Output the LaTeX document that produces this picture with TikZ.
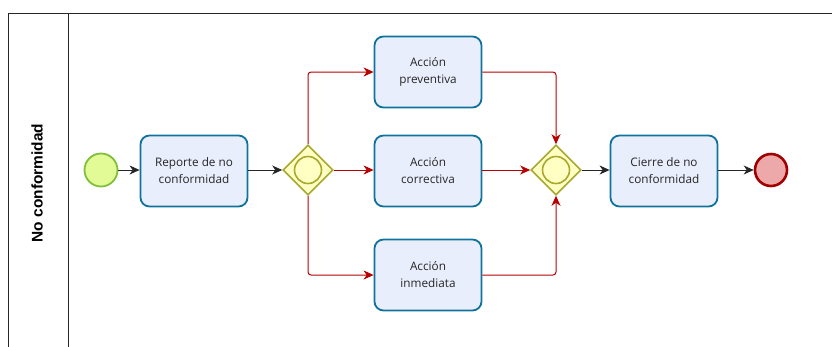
\documentclass[tikz,border=0pt]{standalone}
\usepackage{fontspec}
\setmainfont{Open Sans}
\newfontfamily\lanefont{Liberation Sans}
\usetikzlibrary{arrows.meta,shapes.geometric}
\definecolor{taskfill}{HTML}{E9EEFC}
\definecolor{taskdraw}{HTML}{10739E}
\definecolor{gwfill}{HTML}{FFFFC4}
\definecolor{gwdraw}{HTML}{A8A830}
\definecolor{startfill}{HTML}{E3FB96}
\definecolor{startdraw}{HTML}{80BF3A}
\definecolor{endfill}{HTML}{EDA9A9}
\definecolor{enddraw}{HTML}{A20000}
\definecolor{redflow}{HTML}{B80000}
\tikzset{
  task/.style={draw=taskdraw,fill=taskfill,line width=1.8bp,rounded corners=9bp,
    minimum width=107bp,minimum height=71bp,align=center,inner sep=0pt,
    font=\fontsize{11.8}{17}\selectfont,text=black!85},
  gw/.style={diamond,draw=gwdraw,fill=gwfill,line width=1.6bp,minimum width=50bp,minimum height=50bp,inner sep=0pt},
  gwin/.style={circle,draw=gwdraw,line width=1.6bp,minimum size=27bp,inner sep=0pt},
  flow/.style={line width=1bp,black!85,-{Stealth[length=10bp,width=9bp,inset=3bp]}},
  rflow/.style={line width=1bp,redflow,rounded corners=3bp,-{Stealth[length=10bp,width=9bp,inset=3bp]}},
}
\begin{document}
\begin{tikzpicture}[x=1bp,y=-1bp]
\useasboundingbox (0,0) rectangle (832,346);
% pool
\draw[line width=1bp,black!85] (8,348) -- (8,13.5) -- (834,13.5);
\draw[line width=1bp,black!85] (68,13.5) -- (68,348);
\node[rotate=90,font=\lanefont\bfseries\fontsize{15.5}{17}\selectfont] (lane) at (37,183) {No conformidad};
% nodes
\node[circle,draw=startdraw,fill=startfill,line width=1.8bp,minimum size=33bp,inner sep=0pt] (start) at (101,170) {};
\node[task] (t1) at (194,171) {Reporte de no\\conformidad};
\node[gw] (g1) at (308,170) {};
\node[gwin] (g1i) at (308,170) {};
\node[task] (tp) at (428,72) {Acción\\preventiva};
\node[task] (tc) at (428,171) {Acción\\correctiva};
\node[task] (ti) at (428,275) {Acción\\inmediata};
\node[gw] (g2) at (556,170) {};
\node[gwin] (g2i) at (556,170) {};
\node[task] (tz) at (664,171) {Cierre de no\\conformidad};
\node[circle,draw=enddraw,fill=endfill,line width=2.6bp,minimum size=32bp,inner sep=0pt] (end) at (771,170) {};
% flows
\draw[flow] (start) -- (t1.west |- start);
\draw[flow] (t1.east |- g1) -- (g1.west);
\draw[flow] (g2.east) -- (tz.west |- g2);
\draw[flow] (tz.east |- end) -- (end);
\draw[rflow] (g1.north) -- (g1.north |- tp) -- (tp.west);
\draw[rflow] (g1.east) -- (tc.west |- g1);
\draw[rflow] (g1.south) -- (g1.south |- ti) -- (ti.west);
\draw[rflow] (tp.east) -- (g2.north |- tp) -- (g2.north);
\draw[rflow] (tc.east |- g2) -- (g2.west);
\draw[rflow] (ti.east) -- (g2.south |- ti) -- (g2.south);
\end{tikzpicture}
\end{document}
